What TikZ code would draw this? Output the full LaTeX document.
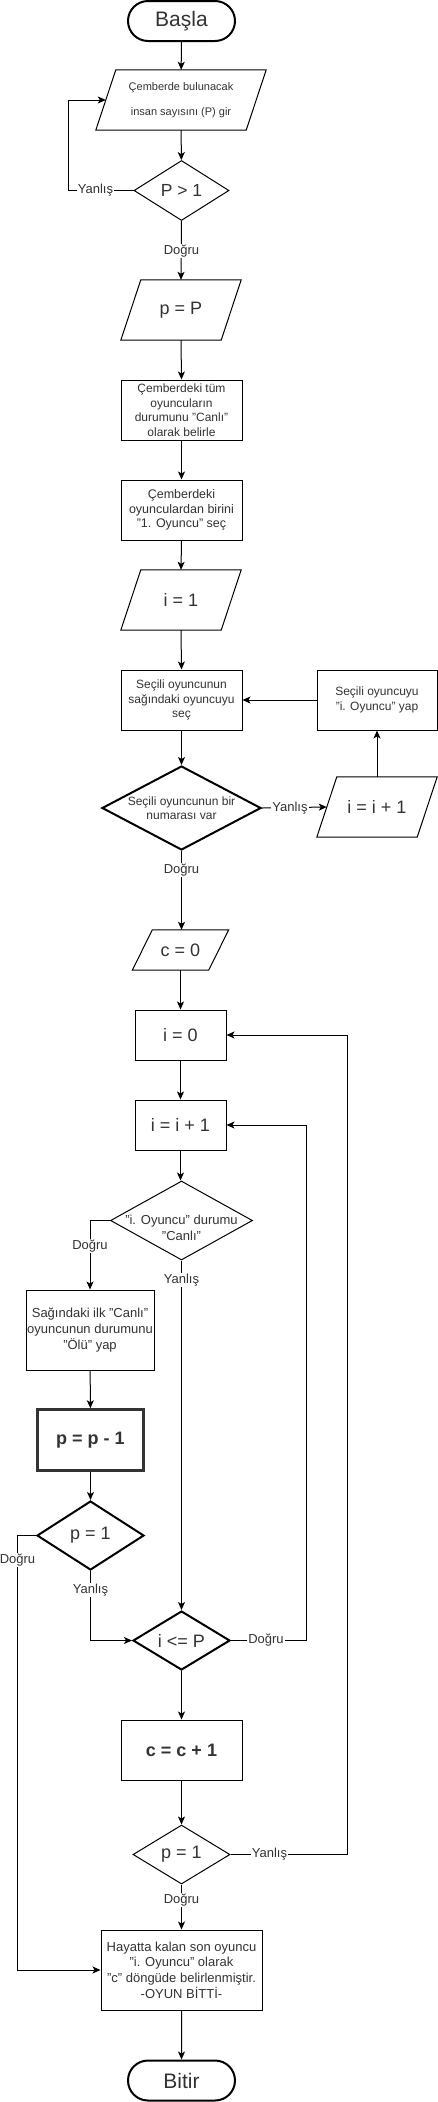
\documentclass[tikz,border=0pt]{standalone}
\usepackage{fontspec}
\setmainfont{Liberation Sans}
\usetikzlibrary{shapes.geometric,shapes.misc,arrows.meta,calc}
\tikzset{
  base/.style={inner sep=0pt, text=black!80, align=center},
  term/.style={base, rounded rectangle, draw, line width=2pt, minimum width=107pt, minimum height=40pt, font=\fontsize{21}{25}\selectfont},
  box/.style={base, rectangle, draw, line width=1pt},
  parabox/.style={base, rectangle},
  dia/.style={base, diamond, draw, line width=1pt},
  heavy/.style={line width=2pt},
  txt/.style={base},
  lbl/.style={base, fill=white, inner sep=1pt, font=\fontsize{13}{15.6}\selectfont},
  arr/.style={line width=1pt, -{Stealth[length=8pt,width=7pt,inset=2pt]}},
  ln/.style={line width=1pt},
  f11/.style={font=\fontsize{11}{24.5}\selectfont},
  f12/.style={font=\fontsize{12}{14.5}\selectfont},
  f13/.style={font=\fontsize{13}{15.6}\selectfont},
  f17/.style={font=\fontsize{17.5}{21}\selectfont},
  f18/.style={font=\fontsize{18}{21}\selectfont},
  f18b/.style={font=\fontsize{18}{21}\selectfont\bfseries},
}
\newcommand\paraline[2]{\draw[line width=1pt] ($(#1.north west)+(#2pt,0)$) -- (#1.north east) -- ($(#1.south east)-(#2pt,0)$) -- (#1.south west) -- cycle;}
\begin{document}
\begin{tikzpicture}[x=1pt,y=-1pt]
\useasboundingbox[fill=white] (0,0) rectangle (438,2102);

% nodes
\node[term] (start) at (181.5,21) {Başla};
\node[parabox, f11, minimum width=170pt, minimum height=60pt] (c1) at (181,100) {Çemberde bulunacak\\insan sayısını (P) gir};
\paraline{c1}{20}
\coordinate (c1in) at ($(c1.west)+(10pt,0)$);
\node[dia, minimum width=95pt, minimum height=60pt] (d1) at (181.5,190.5) {};
\node[txt, f17] (d1t) at (d1) {P > 1};

\node[parabox, f18, minimum width=120pt, minimum height=60pt] (c2) at (181,310) {p = P};
\paraline{c2}{20}
\node[box, f12, minimum width=121pt, minimum height=60pt] (r1) at (181.5,410) {Çemberdeki tüm\\oyuncuların\\durumunu "Canlı"\\olarak belirle};
\node[box, font=\fontsize{12.5}{14.5}\selectfont, minimum width=121pt, minimum height=60pt] (r2) at (181.5,510) {Çemberdeki\\oyunculardan birini\\"1. Oyuncu" seç};
\node[parabox, f18, minimum width=120pt, minimum height=60pt] (c3) at (181,600) {i = 1};
\paraline{c3}{20}
\node[box, f12, minimum width=121pt, minimum height=60pt] (r3) at (181.5,700) {Seçili oyuncunun\\sağındaki oyuncuyu\\seç};
\node[dia, heavy, minimum width=159pt, minimum height=84pt] (d2) at (181.5,808) {};
\node[txt, f12] (d2t) at (181.5,808) {Seçili oyuncunun bir\\numarası var};
\node[parabox, f18, minimum width=120pt, minimum height=60pt] (c4) at (377,807) {i = i + 1};
\paraline{c4}{20}
\coordinate (c4in) at ($(c4.west)+(10pt,0)$);
\node[box, f12, minimum width=120pt, minimum height=60pt] (r4) at (377,700) {Seçili oyuncuyu\\"i. Oyuncu" yap};

\node[parabox, f18, minimum width=96pt, minimum height=40pt] (c5) at (180.5,950) {c = 0};
\paraline{c5}{20}
\node[box, f18, minimum width=91pt, minimum height=50pt] (r5) at (180.5,1035) {i = 0};
\node[box, f18, minimum width=91pt, minimum height=50pt] (r6) at (180.5,1125) {i = i + 1};
\node[dia, minimum width=142pt, minimum height=79pt] (d3) at (181.5,1220.5) {};
\node[txt, f13] (d3t) at (181.5,1228) {"i. Oyuncu" durumu\\"Canlı"};
\node[box, f13, minimum width=128pt, minimum height=80pt] (r7) at (90,1330) {Sağındaki ilk "Canlı"\\oyuncunun durumunu\\"Ölü" yap};
\node[box, f18b, draw=black!80, line width=2.5pt, minimum width=106pt, minimum height=61pt] (r8) at (90.5,1440) {p = p - 1};
\node[dia, heavy, minimum width=107pt, minimum height=69pt] (d4) at (90.5,1535.5) {};
\node[txt, f18] (d4t) at (d4) {p = 1};
\node[dia, heavy, minimum width=97pt, minimum height=59pt] (d5) at (181.5,1640.5) {};
\node[txt, f18] (d5t) at (d5) {i <= P};
\node[box, f18b, minimum width=121pt, minimum height=60pt] (r9) at (181.5,1750) {c = c + 1};
\node[dia, minimum width=97pt, minimum height=59pt] (d6) at (181.5,1854.5) {};
\node[txt, f18] (d6t) at (d6) {p = 1};
\node[box, f13, minimum width=161pt, minimum height=80pt] (r10) at (181.5,1970) {Hayatta kalan son oyuncu\\"i. Oyuncu" olarak\\ "c" döngüde belirlenmiştir.\\-OYUN BİTTİ-};
\node[term] (end) at (181.5,2080.5) {Bitir};

% connectors
\draw[arr] (start) -- (c1);
\draw[arr] (c1) -- (d1);
\draw[arr] (d1.west) -- (68,190.5) |- (c1in);
\node[lbl] (l1) at (95.5,190.5) {Yanlış};
\draw[arr] (d1.south) -- (c2.north);
\node[lbl] (l2) at (181.5,251) {Doğru};
\draw[arr] (c2.south) -- (r1.north);
\draw[arr] (r1) -- (r2);
\draw[arr] (r2.south) -- (c3.north);
\draw[arr] (c3.south) -- (r3.north);
\draw[arr] (r3) -- (d2);
\draw[arr] (d2.east) -- (c4in);
\node[lbl] (l3) at (290,808) {Yanlış};
\draw[arr] (c4.north) -- (r4.south);
\draw[arr] (r4.west) -- (r3.east);
\draw[arr] (d2.south) -- (d2.south |- c5.north);
\node[lbl] (l4) at (181.5,870) {Doğru};
\draw[arr] (c5.south) -- (r5.north);
\draw[arr] (r5) -- (r6);
\draw[arr] (r6.south) -- (r6.south |- d3.north);
\draw[arr] (d3.west) -| (r7.north);
\node[lbl] (l5) at (90,1246) {Doğru};
\draw[arr] (d3.south) -- (d5.north);
\node[lbl] (l6) at (181.5,1280) {Yanlış};
\draw[arr] (r7) -- (r8);
\draw[arr] (r8) -- (d4);
\draw[arr] (d4.south) |- (d5.west);
\node[lbl] (l7) at (90.5,1590) {Yanlış};
\draw[arr] (d4.west) -- (17,1535.5) |- (r10.west);
\node[lbl] (l8) at (17.5,1560) {Doğru};
\draw[arr] (d5.east) -- (306,1640.5) |- (r6.east);
\node[lbl] (l9) at (266,1640.5) {Doğru};
\draw[arr] (d5) -- (r9);
\draw[arr] (r9) -- (d6);
\draw[arr] (d6.east) -- (347,1854.5) |- (r5.east);
\node[lbl] (l10) at (269.5,1854.5) {Yanlış};
\draw[arr] (d6) -- (r10);
\node[lbl] (l11) at (181.5,1900) {Doğru};
\draw[arr] (r10) -- (end);
\end{tikzpicture}
\end{document}
